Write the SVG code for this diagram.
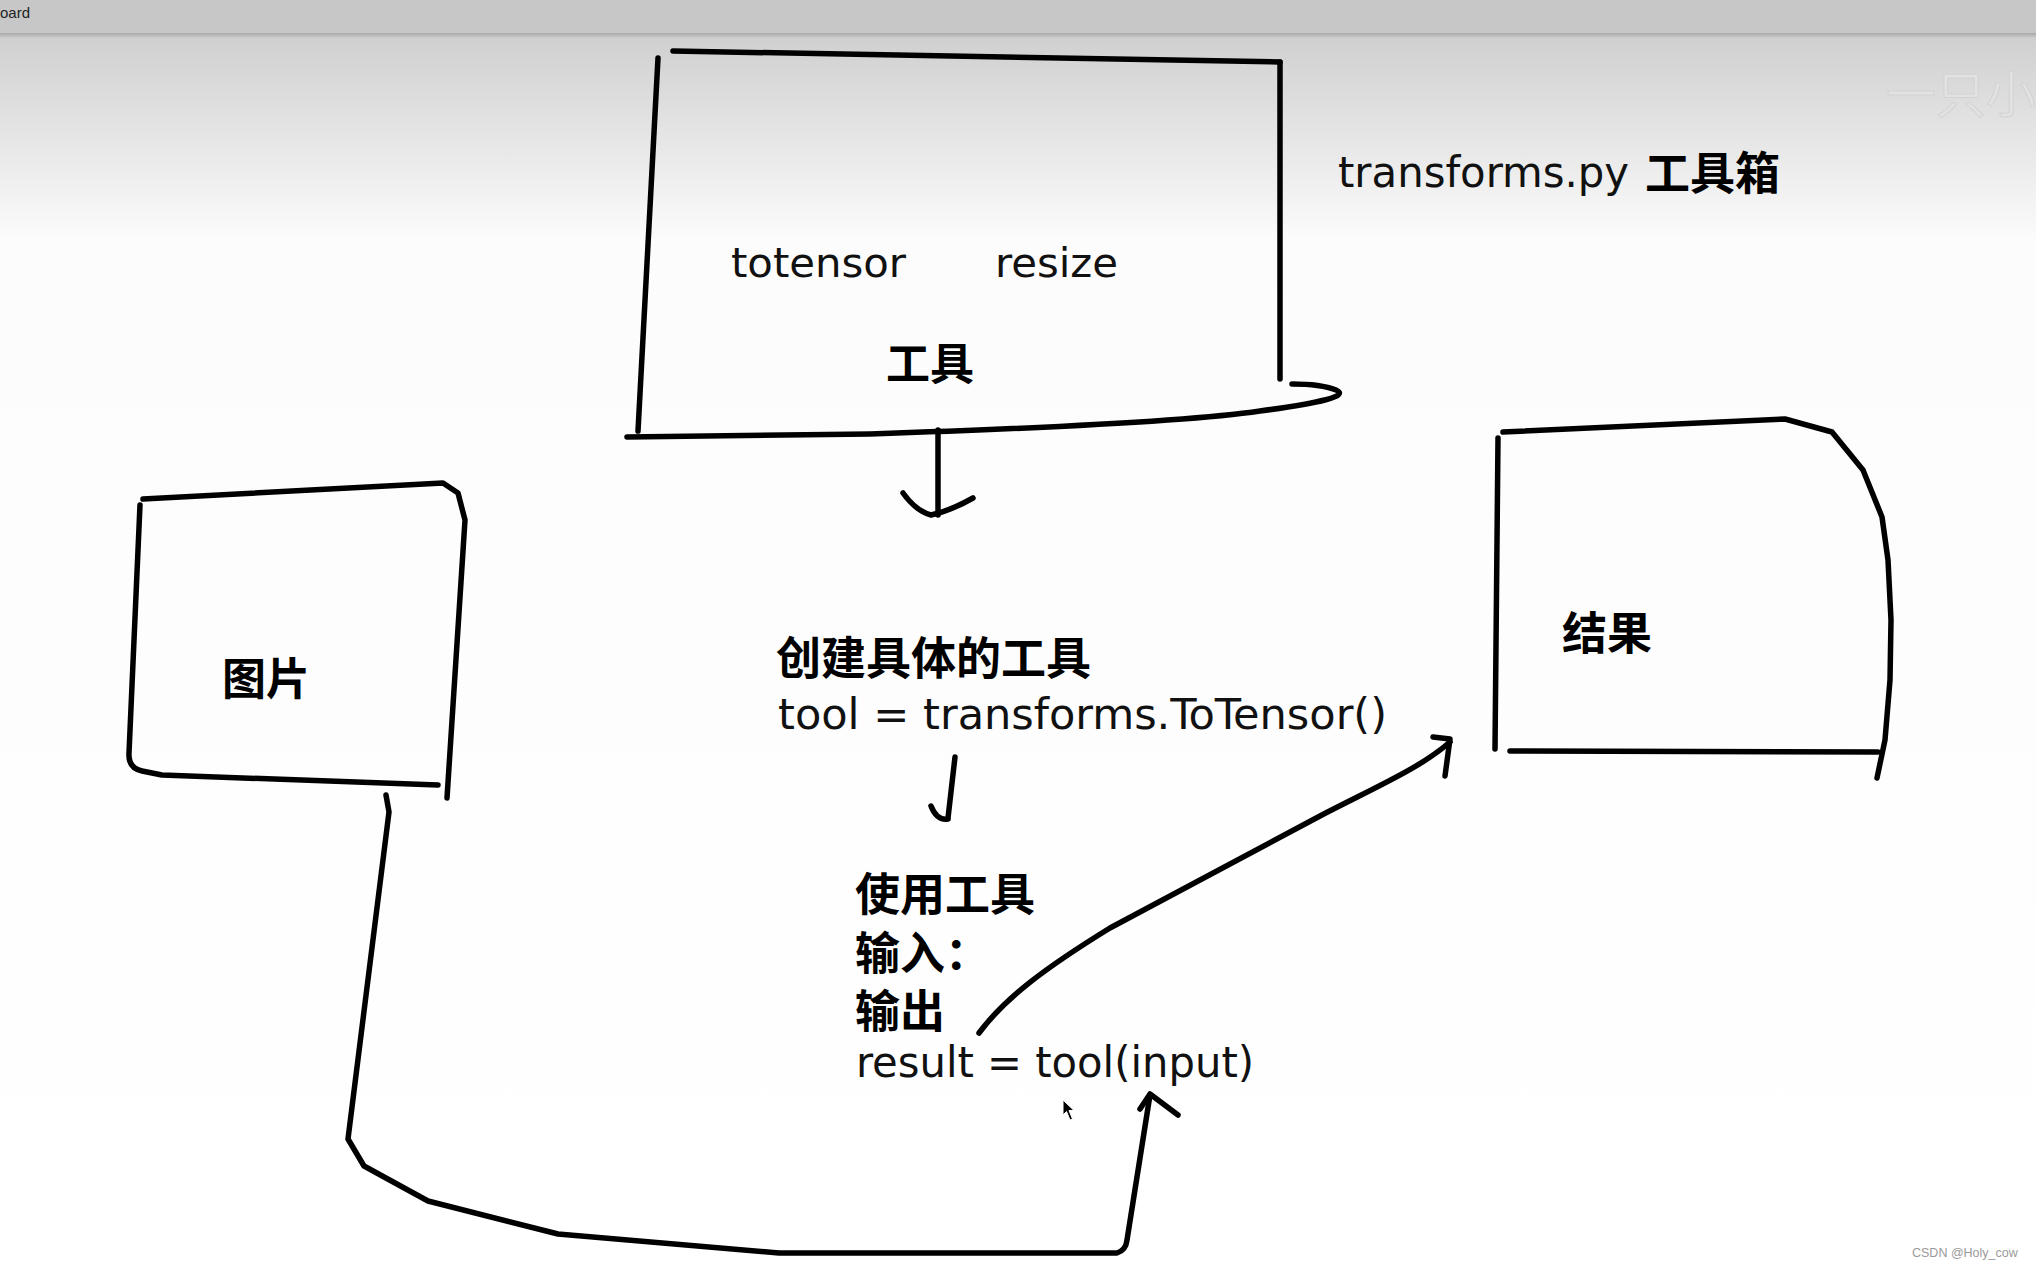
<svg xmlns="http://www.w3.org/2000/svg" width="2036" height="1270" viewBox="0 0 2036 1270">
<defs>
<linearGradient id="bg" x1="0" y1="0" x2="0" y2="1270" gradientUnits="userSpaceOnUse">
<stop offset="0" stop-color="#cdcdcd"/>
<stop offset="0.03" stop-color="#d0d0d0"/>
<stop offset="0.19" stop-color="#fcfcfc"/>
<stop offset="1" stop-color="#ffffff"/>
</linearGradient>
<linearGradient id="shadow" x1="0" y1="0" x2="0" y2="1">
<stop offset="0" stop-color="#a9a9a9"/>
<stop offset="1" stop-color="#cdcdcd"/>
</linearGradient>
</defs>
<style>
.ln{fill:none;stroke:#000;stroke-width:5.5;stroke-linecap:round;stroke-linejoin:round}
.hw{font-family:"Liberation Sans Narrow","DejaVu Sans Condensed","Liberation Sans",sans-serif;font-weight:400;fill:#111}
.cn{font-family:"Noto Sans CJK SC","Liberation Sans",sans-serif;font-weight:700;fill:#000}
</style>
<rect x="0" y="0" width="2036" height="1270" fill="url(#bg)"/>
<rect x="0" y="0" width="2036" height="33" fill="#c7c7c7"/>
<rect x="0" y="33" width="2036" height="5" fill="url(#shadow)"/>
<text x="0" y="18" font-family="Liberation Sans, sans-serif" font-size="15" fill="#222">oard</text>
<text x="1886" y="113" font-family="Noto Sans CJK SC, sans-serif" font-size="50" fill="#e2e2e2" stroke="#d2d2d2" stroke-width="1">一只小</text>

<g id="toolbox">
<path class="ln" d="M673,51 L1280,62"/>
<path class="ln" d="M658,58 L638,431"/>
<path class="ln" d="M1280,62 L1280,379"/>
<path class="ln" d="M627,437 L870,434 C1050,428 1200,420 1260,411 C1320,403 1350,396 1336,390 C1326,386 1310,384 1292,384"/>
<text class="hw" x="731" y="277" font-size="40" textLength="175" lengthAdjust="spacingAndGlyphs">totensor</text>
<text class="hw" x="995" y="277" font-size="40" textLength="123" lengthAdjust="spacingAndGlyphs">resize</text>
<text class="cn" x="886" y="380" font-size="44">工具</text>
</g>

<g id="title">
<text class="hw" x="1338" y="187" font-size="42" textLength="291" lengthAdjust="spacingAndGlyphs">transforms.py</text>
<text class="cn" x="1645" y="190" font-size="45">工具箱</text>
</g>

<g id="image-node">
<path class="ln" d="M143,499 L443,483 L458,493 L465,520 L447,798"/>
<path class="ln" d="M140,505 L129,753 Q128,768 142,771 L162,775 L438,785"/>
<text class="cn" x="222" y="695" font-size="44">图片</text>
</g>

<g id="result-node">
<path class="ln" d="M1503,432 L1785,419 L1832,432 L1863,470 L1882,517 L1888,560 L1891,620 L1890,680 L1885,740 L1877,778"/>
<path class="ln" d="M1498,438 L1495,749"/>
<path class="ln" d="M1510,751 L1878,752"/>
<text class="cn" x="1562" y="650" font-size="45">结果</text>
</g>

<g id="create-node">
<text class="cn" x="776" y="675" font-size="45">创建具体的工具</text>
<text class="hw" x="778" y="729" font-size="42" textLength="609" lengthAdjust="spacingAndGlyphs">tool = transforms.ToTensor()</text>
</g>

<g id="use-node">
<text class="cn" x="855" y="911" font-size="45">使用工具</text>
<text class="cn" x="855" y="970" font-size="45">输入：</text>
<text class="cn" x="855" y="1028" font-size="45">输出</text>
<text class="hw" x="856" y="1077" font-size="42" textLength="398" lengthAdjust="spacingAndGlyphs">result = tool(input)</text>
</g>

<g id="connectors">
<path class="ln" d="M938,430 L938,515"/>
<path class="ln" d="M903,493 Q916,511 931,515 Q950,511 973,498"/>
<path class="ln" d="M955,757 L948,818"/>
<path class="ln" d="M931,806 Q937,821 948,819"/>
<path class="ln" d="M979,1033 C1005,998 1045,968 1110,928 L1320,816 C1380,785 1420,768 1450,742"/>
<path class="ln" d="M1433,737 L1450,739 L1445,776"/>
<path class="ln" d="M386,795 L389,812 L348,1139 L364,1166 L428,1201 L558,1234 L779,1253 L1117,1253 Q1126,1250 1127,1240 L1150,1095"/>
<path class="ln" d="M1140,1109 L1150,1094 L1178,1115"/>
</g>

<path d="M1063,1100 L1063,1115 L1066.5,1111.5 L1070,1120 L1072.5,1119 L1069,1110.5 L1074,1110.5 Z" fill="#000" stroke="#fff" stroke-width="1"/>
<text x="1912" y="1257" font-family="Liberation Sans, sans-serif" font-size="12.5" fill="#9a9a9a">CSDN @Holy_cow</text>
</svg>
